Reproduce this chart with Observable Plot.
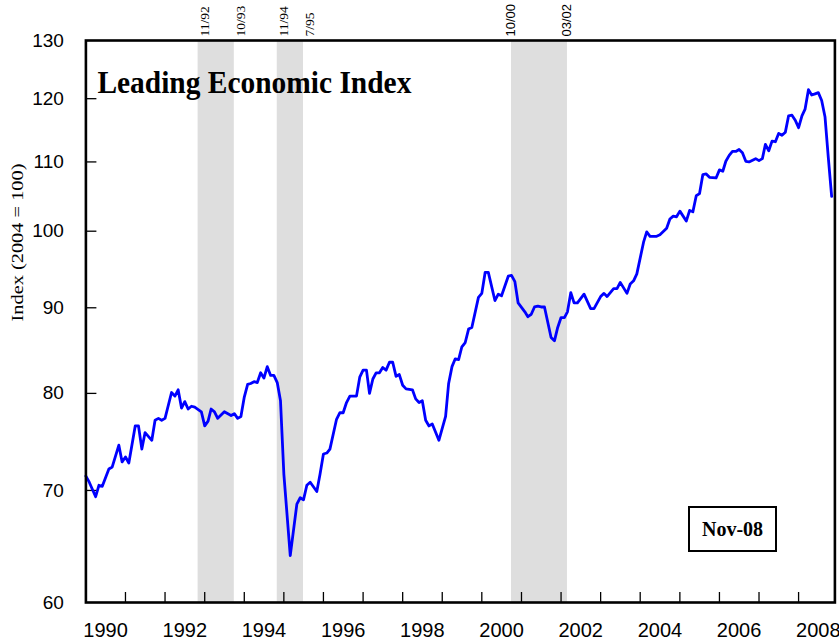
<!DOCTYPE html>
<html>
<head>
<meta charset="utf-8">
<script src="https://cdn.jsdelivr.net/npm/d3@7"></script>
<script src="https://cdn.jsdelivr.net/npm/@observablehq/plot@0.6"></script>
<style>
  html, body { margin: 0; padding: 0; background: white; }
  #wrap { position: relative; width: 839px; height: 642px; }
  #stamp { position: absolute; left: 688px; top: 506px; width: 85px; height: 42px; border: 2px solid #000;
           font-family: "Liberation Serif", "Times New Roman", serif; font-weight: bold; font-size: 20px;
           display: flex; align-items: center; justify-content: center; background: white; }
</style>
</head>
<body>
<div id="wrap"><div id="stamp">Nov-08</div></div>
<script>
const months = [
  "1990-01","1990-02","1990-04","1990-05","1990-06","1990-08","1990-09","1990-11","1990-12",
  "1991-01","1991-02","1991-04","1991-05","1991-06","1991-07","1991-09","1991-10","1991-11","1991-12",
  "1992-01","1992-03","1992-04","1992-05","1992-06","1992-07","1992-08","1992-09","1992-10","1992-12",
  "1993-01","1993-02","1993-03","1993-04","1993-05","1993-07","1993-09","1993-10","1993-11","1993-12",
  "1994-01","1994-02","1994-03","1994-04","1994-05","1994-06","1994-07","1994-08","1994-09","1994-10","1994-11","1994-12",
  "1995-01","1995-03","1995-05","1995-06","1995-07","1995-08","1995-09","1995-11","1995-12",
  "1996-01","1996-02","1996-03","1996-05","1996-06","1996-07","1996-08","1996-09","1996-11","1996-12",
  "1997-01","1997-02","1997-03","1997-04","1997-05","1997-06","1997-07","1997-08","1997-09","1997-10","1997-11","1997-12",
  "1998-01","1998-02","1998-04","1998-05","1998-06","1998-07","1998-08","1998-09","1998-10","1998-12",
  "1999-02","1999-03","1999-04","1999-05","1999-06","1999-07","1999-08","1999-09","1999-10","1999-12",
  "2000-01","2000-02","2000-03","2000-05","2000-06","2000-07","2000-09","2000-10","2000-11","2000-12",
  "2001-02","2001-03","2001-04","2001-05","2001-06","2001-07","2001-08","2001-10","2001-11","2001-12",
  "2002-01","2002-02","2002-03","2002-04","2002-05","2002-06","2002-08","2002-10","2002-11",
  "2003-01","2003-02","2003-03","2003-05","2003-06","2003-07","2003-09","2003-10","2003-11","2003-12",
  "2004-02","2004-03","2004-04","2004-06","2004-07","2004-09","2004-10","2004-11","2004-12",
  "2005-01","2005-03","2005-04","2005-05","2005-06","2005-07","2005-08","2005-09","2005-10","2005-12",
  "2006-01","2006-02","2006-03","2006-04","2006-05","2006-06","2006-07","2006-08","2006-09","2006-10","2006-12",
  "2007-01","2007-02","2007-03","2007-04","2007-05","2007-06","2007-07","2007-08","2007-09","2007-10","2007-11","2007-12",
  "2008-01","2008-02","2008-03","2008-04","2008-05","2008-06","2008-07","2008-08","2008-09","2008-10","2008-11"
];
const values = [
  71.4,70.8,69.4,70.5,70.4,72.1,72.3,74.5,72.8,
  73.3,72.7,76.5,76.5,74.1,75.8,75.0,77.1,77.3,77.1,
  77.3,80.1,79.7,80.4,78.4,79.1,78.3,78.6,78.5,78.0,
  76.5,77.0,78.3,78.0,77.3,78.0,77.6,77.8,77.3,77.5,
  79.6,81.0,81.1,81.3,81.2,82.3,81.7,83.0,82.0,82.0,81.2,79.2,
  71.6,64.0,68.7,69.3,69.1,70.5,70.8,69.9,71.6,
  73.6,73.7,74.1,77.2,77.9,77.9,79.0,79.7,79.7,81.8,
  82.6,82.6,80.0,81.6,82.3,82.3,82.9,82.6,83.5,83.5,81.9,82.1,
  80.9,80.5,80.4,79.4,79.0,79.2,77.1,76.5,76.7,75.0,
  77.5,81.1,83.0,83.9,83.8,85.3,85.8,87.4,87.6,91.3,
  91.8,94.5,94.5,90.9,91.7,91.5,94.0,94.1,93.3,90.6,
  89.5,88.9,89.2,90.1,90.2,90.1,90.1,86.4,86.0,87.6,
  88.8,88.8,89.5,91.9,90.6,90.6,91.7,89.9,89.9,
  91.4,91.8,91.4,92.4,92.4,93.2,91.8,93.0,93.4,94.3,
  98.5,99.9,99.3,99.3,99.5,100.4,101.7,102.1,102.0,
  102.8,101.4,102.9,102.7,105.0,105.3,108.1,108.2,107.7,107.6,
  108.8,108.6,110.1,111.0,111.6,111.6,111.9,111.4,110.1,110.0,110.5,
  110.2,110.5,112.7,111.7,113.2,113.1,114.4,114.1,114.6,117.2,117.3,116.5,
  115.3,117.2,118.3,121.5,120.6,120.8,121.0,119.7,117.0,110.7,104.9
];

// Shaded periods and their labels
const shadeStart = ["1992-11", "1994-11", "2000-10"];
const shadeEnd   = ["1993-10", "1995-07", "2002-03"];
const shadeLabelsSerif = [["1992-11","11/92"],["1993-10","10/93"],["1994-11","11/94"],["1995-07","7/95"]];
const shadeLabelsSans  = [["2000-10","10/00"],["2002-03","03/02"]];

// Axis ticks
const yearTicks = [1991,1992,1993,1994,1995,1996,1997,1998,1999,2000,2001,2002,2003,2004,2005,2006,2007,2008];
const yearLabels = [1990,1992,1994,1996,1998,2000,2002,2004,2006,2008];
const yTickLabels = [60,70,80,90,100,110,120,130];
const yInnerTicks = [70,80,90,100,110,120];

const title = "Leading Economic Index";
const yLabel = "Index (2004 = 100)";

const parse = d3.utcParse("%Y-%m");
const data = months.map((m, i) => ({date: parse(m), value: values[i]}));
const shades = shadeStart.map((s, i) => ({x1: parse(s), x2: parse(shadeEnd[i])}));
const tickDates = yearTicks.map(y => new Date(Date.UTC(y, 0, 1)));
const labelDates = yearLabels.map(y => new Date(Date.UTC(y, 6, 1)));

const W = 839, H = 642, mL = 85.4, mR = 4.6, mT = 40, mB = 40;
const innerW = W - mL - mR, innerH = H - mT - mB;

const chart = Plot.plot({
  width: W, height: H,
  marginLeft: mL, marginRight: mR, marginTop: mT, marginBottom: mB,
  style: {fontFamily: "'Liberation Sans', Arial, sans-serif", fontSize: "19px", background: "white", overflow: "visible"},
  x: {type: "utc", domain: [parse("1990-01"), parse("2008-12")]},
  y: {type: "log", domain: [60, 130]},
  marks: [
    Plot.rect(shades, {x1: "x1", x2: "x2", fill: "#dedede"}),
    Plot.tickX(tickDates, {x: d => d, insetTop: innerH - 10, stroke: "#000", strokeWidth: 1.3}),
    Plot.tickY(yInnerTicks, {y: d => d, insetRight: innerW - 11, stroke: "#000", strokeWidth: 1.3}),
    Plot.line(data, {x: "date", y: "value", stroke: "#0000ff", strokeWidth: 2.8, curve: "linear"}),
    Plot.frame({stroke: "#000", strokeWidth: 2.6}),
    Plot.axisX({ticks: labelDates, tickSize: 0, tickPadding: 20, tickFormat: d3.utcFormat("%Y"), fontSize: 20, label: null}),
    Plot.axisY({ticks: yTickLabels, tickSize: 0, tickPadding: 22, tickFormat: d => String(d), fontSize: 19, label: null}),
    Plot.text(shadeLabelsSerif, {x: d => parse(d[0]), text: d => d[1], frameAnchor: "top", rotate: -90,
      textAnchor: "start", dy: -4, dx: 1, fontSize: 13.5, fontFamily: "'Liberation Serif', 'Times New Roman', serif", fill: "#000"}),
    Plot.text(shadeLabelsSans, {x: d => parse(d[0]), text: d => d[1], frameAnchor: "top", rotate: -90,
      textAnchor: "start", dy: -4, dx: -6, fontSize: 13, fontFamily: "'Liberation Sans', Arial, sans-serif", fill: "#000"}),
    Plot.text([title], {text: d => d, frameAnchor: "top-left", textAnchor: "start", lineAnchor: "bottom",
      dx: 11.5, dy: 52, fontSize: 31, fontWeight: "bold", fontFamily: "'Liberation Serif', 'Times New Roman', serif", fill: "#000"}),
    Plot.text([yLabel], {text: d => d, frameAnchor: "left", rotate: -90, dx: -68, fontSize: 16,
      fontFamily: "'Liberation Serif', 'Times New Roman', serif", fill: "#000"})
  ]
});

d3.select(chart).selectAll("text").each(function() {
  const t = this.textContent;
  if (t === title) d3.select(this).attr("textLength", 314).attr("lengthAdjust", "spacingAndGlyphs");
  if (t === yLabel) d3.select(this).attr("textLength", 158).attr("lengthAdjust", "spacingAndGlyphs");
});

document.getElementById("wrap").prepend(chart);
</script>
</body>
</html>
